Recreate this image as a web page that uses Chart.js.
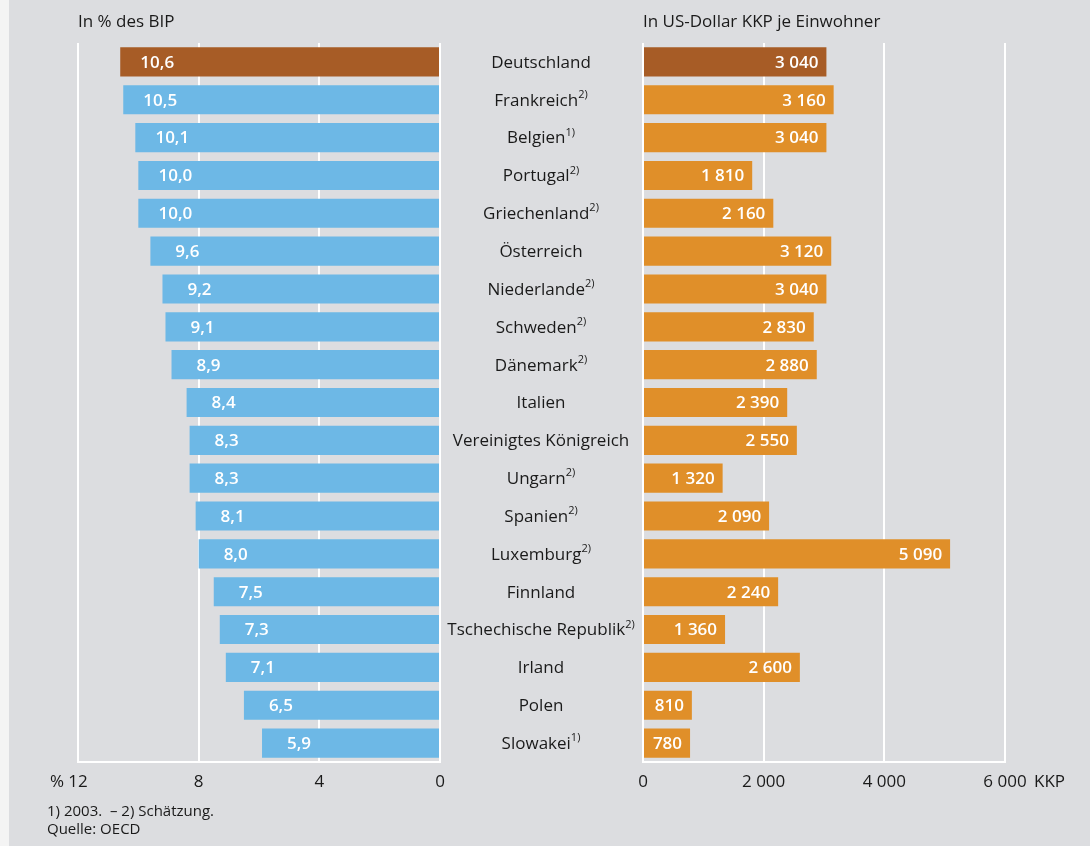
<!DOCTYPE html>
<html lang="de">
<head>
<meta charset="utf-8">
<title>Gesundheitsausgaben im OECD-Vergleich</title>
<script src="https://cdn.jsdelivr.net/npm/chart.js@4.4.1/dist/chart.umd.min.js"></script>
<style>
  html, body { margin: 0; padding: 0; background: #f4f4f4; }
  #wrap { position: relative; width: 1090px; height: 846px; overflow: hidden; }
  #panel { position: absolute; left: 9px; top: 0; width: 1081px; height: 846px; background: #dcdde0; }
  canvas { position: absolute; left: 0; top: 0; }
</style>
</head>
<body>
<div id="wrap">
  <div id="panel"></div>
  <canvas id="leftChart" width="1090" height="846"></canvas>
  <canvas id="rightChart" width="1090" height="846"></canvas>
</div>
<script>
// Data
const countries = ["Deutschland", "Frankreich", "Belgien", "Portugal", "Griechenland", "Österreich",
  "Niederlande", "Schweden", "Dänemark", "Italien", "Vereinigtes Königreich", "Ungarn", "Spanien",
  "Luxemburg", "Finnland", "Tschechische Republik", "Irland", "Polen", "Slowakei"];
const footnoteMarks = ["", "2)", "1)", "2)", "2)", "", "2)", "2)", "2)", "", "", "2)", "2)", "2)",
  "", "2)", "", "", "1)"];
const shareOfGDP = [10.6, 10.5, 10.1, 10.0, 10.0, 9.6, 9.2, 9.1, 8.9, 8.4, 8.3, 8.3, 8.1, 8.0,
  7.5, 7.3, 7.1, 6.5, 5.9];
const usdPerCapita = [3040, 3160, 3040, 1810, 2160, 3120, 3040, 2830, 2880, 2390, 2550, 1320, 2090,
  5090, 2240, 1360, 2600, 810, 780];
const pctTicks = [12, 8, 4, 0];
const usdTicks = [0, 2000, 4000, 6000];
const highlight = "Deutschland";

const BLUE = "#6db8e6", ORANGE = "#e08f29", BROWN = "#a75c26", GRID = "#ffffff", TEXT = "#1a1a1a";
const FONT = "'Open Sans', 'Noto Sans', sans-serif";

const fmtPct = v => v.toFixed(1).replace(".", ",");
const fmtUsd = v => String(v).replace(/\B(?=(\d{3})+(?!\d))/g, " ");

function baseOptions(min, max, step, reverse, padding) {
    return {
        indexAxis: "y",
        responsive: false,
        animation: false,
        layout: { padding: padding },
        plugins: { legend: { display: false }, tooltip: { enabled: false } },
        scales: {
            x: {
                min: min, max: max, reverse: reverse,
                ticks: { display: false, stepSize: step },
                grid: { color: GRID, lineWidth: 2, drawTicks: false },
                border: { color: GRID, width: 2 }
            },
            y: { display: false }
        }
    };
}

// left chart: share of GDP, axis runs from 12 down to 0
const leftLabels = {
    id: "leftLabels",
    afterDatasetsDraw(chart) {
        const ctx = chart.ctx, area = chart.chartArea, xs = chart.scales.x;
        ctx.save();
        ctx.textBaseline = "middle";
        ctx.textAlign = "center";
        ctx.fillStyle = "#ffffff";
        ctx.font = "600 17px " + FONT;
        chart.getDatasetMeta(0).data.forEach((bar, i) => {
            ctx.fillText(fmtPct(shareOfGDP[i]), bar.x + 37, bar.y + 1);
        });

        ctx.fillStyle = TEXT;
        ctx.font = "17px " + FONT;
        pctTicks.forEach(t => ctx.fillText(String(t), xs.getPixelForValue(t), area.bottom + 20));
        ctx.textAlign = "right";
        ctx.fillText("%", xs.getPixelForValue(12) - 14, area.bottom + 20);

        ctx.textAlign = "left";
        ctx.fillText("In % des BIP", area.left, 22);
        ctx.restore();
    }
};

new Chart(document.getElementById("leftChart").getContext("2d"), {
    type: "bar",
    data: {
        labels: countries,
        datasets: [{
            data: shareOfGDP,
            backgroundColor: countries.map(c => c === highlight ? BROWN : BLUE),
            categoryPercentage: 1,
            barPercentage: 0.77
        }]
    },
    options: baseOptions(0, 12, 4, true, { left: 78, right: 650, top: 43, bottom: 84 }),
    plugins: [leftLabels]
});

// right chart: US dollars per inhabitant, plus country names and footnotes
const rightLabels = {
    id: "rightLabels",
    afterDatasetsDraw(chart) {
        const ctx = chart.ctx, area = chart.chartArea, xs = chart.scales.x, ys = chart.scales.y;
        ctx.save();
        ctx.textBaseline = "middle";
        ctx.textAlign = "right";
        ctx.fillStyle = "#ffffff";
        ctx.font = "600 17px " + FONT;
        chart.getDatasetMeta(0).data.forEach((bar, i) => {
            ctx.fillText(fmtUsd(usdPerCapita[i]), bar.x - 8, bar.y + 1);
        });

        // country names in the middle column
        ctx.fillStyle = TEXT;
        ctx.textAlign = "left";
        countries.forEach((name, i) => {
            const y = ys.getPixelForValue(i) + 1;
            ctx.font = "17px " + FONT;
            const w = ctx.measureText(name).width;
            ctx.font = "11px " + FONT;
            const ws = footnoteMarks[i] ? ctx.measureText(footnoteMarks[i]).width : 0;
            const x0 = 541 - (w + ws) / 2;
            ctx.font = "17px " + FONT;
            ctx.fillText(name, x0, y);
            if (footnoteMarks[i]) {
                ctx.font = "11px " + FONT;
                ctx.fillText(footnoteMarks[i], x0 + w, y - 6);
            }
        });

        ctx.font = "17px " + FONT;
        ctx.textAlign = "center";
        usdTicks.forEach(t => ctx.fillText(fmtUsd(t), xs.getPixelForValue(t), area.bottom + 20));
        ctx.textAlign = "left";
        ctx.fillText("KKP", xs.getPixelForValue(6000) + 29, area.bottom + 20);
        ctx.fillText("In US-Dollar KKP je Einwohner", area.left, 22);

        ctx.font = "15px " + FONT;
        ctx.fillText("1) 2003.  \u2013 2) Schätzung.", 47, 812);
        ctx.fillText("Quelle: OECD", 47, 830);
        ctx.restore();
    }
};

new Chart(document.getElementById("rightChart").getContext("2d"), {
    type: "bar",
    data: {
        labels: countries,
        datasets: [{
            data: usdPerCapita,
            backgroundColor: countries.map(c => c === highlight ? BROWN : ORANGE),
            categoryPercentage: 1,
            barPercentage: 0.77
        }]
    },
    options: baseOptions(0, 6000, 2000, false, { left: 643, right: 85, top: 43, bottom: 84 }),
    plugins: [rightLabels]
});
</script>
</body>
</html>
